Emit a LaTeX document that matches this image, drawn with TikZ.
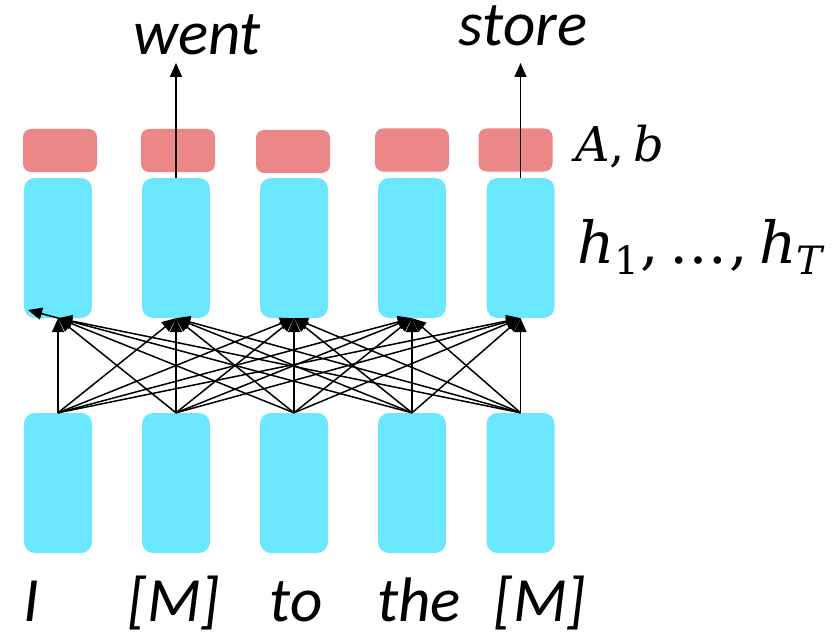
\documentclass[tikz,border=0pt]{standalone}
\usepackage{fontspec}
\setmainfont{Carlito}
\newfontfamily\mathlike{DejaVu Serif}
\usetikzlibrary{arrows.meta}
\definecolor{cyanbox}{RGB}{107,232,255}
\definecolor{redbox}{RGB}{236,135,135}
\newcommand{\lowsub}[1]{\raisebox{-11pt}{\fontsize{39}{42}\selectfont\upshape #1}}
\begin{document}
\begin{tikzpicture}[x=1pt,y=-1pt,
  hid/.style={rectangle, rounded corners=11pt, fill=cyanbox, minimum width=68pt, minimum height=140pt, inner sep=0pt},
  outbox/.style={rectangle, rounded corners=8pt, fill=redbox, minimum width=74pt, minimum height=43pt, inner sep=0pt},
  conn/.style={-{Triangle[length=14pt,width=12pt]}, line width=1.5pt},
  word/.style={font=\fontsize{63}{70}\selectfont\itshape, inner sep=0pt, anchor=base},
  mathlbl/.style={inner sep=0pt, anchor=base west},
]
\useasboundingbox (0,0) rectangle (839,634);
% output layer
\node[outbox] (r1) at (60,150.5) {};
\node[outbox] (r2) at (178,150.5) {};
\node[outbox] (r3) at (293,151.5) {};
\node[outbox] (r4) at (412,150) {};
\node[outbox] (r5) at (515.5,150) {};
% hidden states
\node[hid] (t1) at (58,248) {};
\node[hid] (t2) at (176,248) {};
\node[hid] (t3) at (294,248) {};
\node[hid] (t4) at (412,248) {};
\node[hid] (t5) at (520.5,248) {};
% inputs
\node[hid] (b1) at (58,483) {};
\node[hid] (b2) at (176,483) {};
\node[hid] (b3) at (294,483) {};
\node[hid] (b4) at (412,483) {};
\node[hid] (b5) at (520.5,483) {};
% attention connections
\foreach \i in {1,...,5}{
  \foreach \j in {1,...,5}{
    \ifnum\numexpr\i*10+\j\relax=41\relax\else
      \draw[conn] (b\i.north) -- (t\j.south);
    \fi
  }
}
\coordinate (ov) at (28,310);
\draw[conn] (b4.north) -- (ov);
% outputs
\coordinate (wtip) at (176,63);
\coordinate (stip) at (520.5,63);
\draw[conn] (t2.north) -- (wtip);
\draw[conn] (t5.north) -- (stip);
\node[word] (went) at (197,55) {went};
\node[word] (store) at (523,46) {store};
% input words
\node[word] (w1) at (31,621) {I};
\node[word] (w2) at (174,621) {[M]};
\node[word] (w3) at (296,621) {to};
\node[word] (w4) at (419,621) {the};
\node[word] (w5) at (540,621) {[M]};
% side labels
\node[mathlbl, font=\fontsize{48}{52}\selectfont\mathlike] (ab) at (575,161) {\textit{A},\kern8pt\textit{b}};
\node[mathlbl, font=\fontsize{58}{62}\selectfont\mathlike] (hs) at (577,263) {\textit{h}\lowsub{1}\kern1pt,\kern11pt…\kern2pt,\kern11pt\textit{h}\lowsub{\textit{T}}};
\end{tikzpicture}
\end{document}
